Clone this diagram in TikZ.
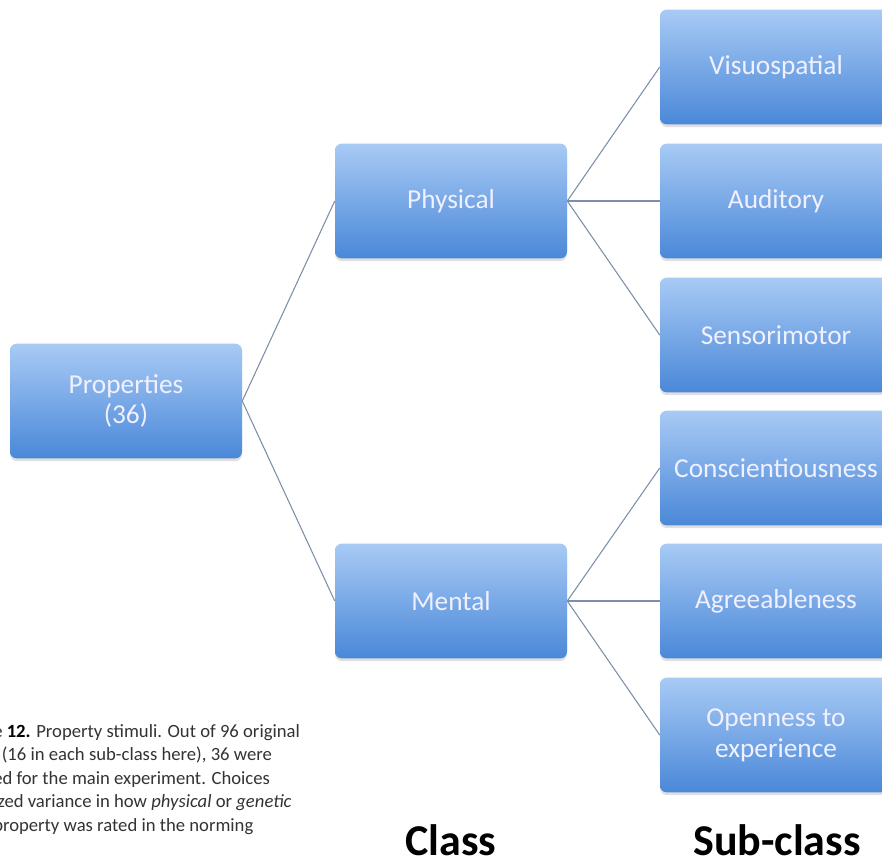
\documentclass[tikz,border=0pt]{standalone}
\usepackage{fontspec}
\setmainfont{Carlito}
\usetikzlibrary{shadows}
\definecolor{btop}{HTML}{A8CAF5}
\definecolor{bbot}{HTML}{4A88D8}
\definecolor{ln}{HTML}{7B8FA8}
\definecolor{capc}{HTML}{333333}

\begin{document}
\begin{tikzpicture}[
  x=0.75pt,y=-0.75pt,
  box/.style={rectangle,rounded corners=5pt,top color=btop,bottom color=bbot,minimum width=174pt,minimum height=86pt,inner sep=0pt,align=center,text=white!94!blue,font=\fontsize{20.5}{23}\selectfont,drop shadow={opacity=0.25,shadow xshift=0pt,shadow yshift=-2pt}},
  edge/.style={draw=ln,line width=0.8pt},
  lbl/.style={font=\fontsize{33}{36}\selectfont\bfseries,text=black,inner sep=0pt,anchor=base},
  capt/.style={font=\fontsize{14}{17.6}\selectfont,text=capc,align=left,inner sep=0pt}
]
  \useasboundingbox (0,0) rectangle (882,861);
  \clip (0,0) rectangle (882,861);

  % Root and class boxes
  \node[box] (prop) at (126,401) {Properties\\(36)};
  \node[box] (phys) at (451,201) {Physical};
  \node[box] (ment) at (451,601) {Mental};

  % Sub-class column
  \node[box] (vis)   at (776,67)  {Visuospatial};
  \node[box] (aud)   at (776,201) {Auditory};
  \node[box] (sens)  at (776,335) {Sensorimotor};
  \node[box] (consc) at (776,468) {Conscientiousness};
  \node[box] (agr)   at (776,601) {Agreeableness};
  \node[box] (open)  at (776,735) {Openness to\\experience};

  % Connectors
  \draw[edge] (prop.east) -- (phys.west);
  \draw[edge] (prop.east) -- (ment.west);
  \foreach \s in {vis,aud,sens} \draw[edge] (phys.east) -- (\s.west);
  \foreach \s in {consc,agr,open} \draw[edge] (ment.east) -- (\s.west);

  % Column labels
  \node[lbl] (cls) at (451,855) {Class};
  \node[lbl] (sub) at (777,855) {Sub-class};

  % Caption (cut at the left edge)
  \node[capt,anchor=north west] (cap) at (-7,724) {e \textbf{\color{black}12.} Property stimuli. Out of 96 original\\
    i (16 in each sub-class here), 36 were\\
    ed for the main experiment. Choices\\
    ized variance in how \textit{physical} or \textit{genetic}\\
    property was rated in the norming};
\end{tikzpicture}
\end{document}
